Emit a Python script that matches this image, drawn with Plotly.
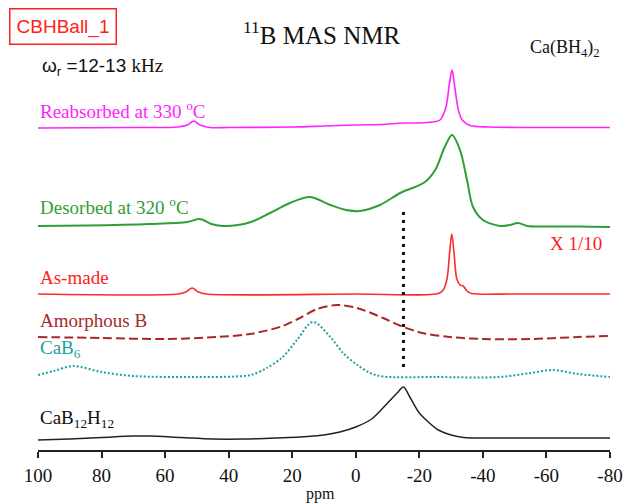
import plotly.graph_objects as go

# ---------------- data ----------------
# chemical shift (ppm) and relative intensity for each spectrum
cab12h12_ppm = [100, 90, 80, 70, 65, 55, 45, 35, 25, 15, 10, 5, 0, -5, -10, -13, -15, -17, -20, -22.5, -26, -30, -34, -45, -60, -80]
cab12h12_int = [0, 1, 2.5, 4, 4, 2.5, 1, 1, 2, 3.5, 5, 8, 13, 21, 37, 47, 53, 43, 27, 19, 10, 5, 2.5, 2, 2, 2]

cab6_ppm = [100, 95, 89, 80, 70, 50, 38, 33, 28, 23, 18.5, 13.5, 8, 4, -0.5, -4.5, -8.5, -25, -45, -55, -62, -70, -80]
cab6_int = [2, 6, 11, 5, 1, 0, 0.5, 2, 9, 20, 37, 55, 40, 24, 12, 4, 0.5, 0, 0, 4, 7, 3, 0]

amorph_ppm = [100, 80, 60, 43.7, 33.3, 23, 17.6, 12.2, 6, -0.4, -8.6, -15, -21, -29.6, -40, -55, -70, -80]
amorph_int = [2, 1, 0, 2, 5, 13, 21, 30, 34, 31, 21, 12, 6, 2, 0, 0, 2, 3]

asmade_ppm = [100, 56, 53.5, 51.5, 49.5, 47, 0, -26, -27.5, -28.7, -29.5, -30.2, -31, -31.8, -32.8, -33.8, -35, -36.5, -50, -80]
asmade_int = [0, 0, 2, 6, 2, 0, 0, 0.5, 4, 15, 40, 60, 38, 15, 9, 8, 3, 0.5, 0, 0]

desorb_ppm = [100, 85, 65, 53, 49, 45.5, 42, 37, 33, 27, 20.7, 14.5, 8, 3, -1.3, -7.6, -14, -18.6, -21.8, -25, -28, -30.3, -32.8, -35, -36.9, -40, -45.4, -48.5, -51, -54, -60, -70, -80]
desorb_int = [1, 1.5, 3, 5, 8, 3, 1, 2, 5, 14, 24, 30, 22, 17, 16, 22, 34, 40, 45, 57, 80, 92, 77, 47, 20, 7, 1, 2, 4, 1, 0.5, 0.5, 0]

reabs_ppm = [100, 70, 56, 53, 51, 49, 46, 40, 20, 10, 0, -8, -15, -20, -24, -26.5, -28.3, -29.5, -30.3, -31.1, -32.3, -33.5, -36, -42, -55, -80]
reabs_int = [0, 0.5, 1, 3, 7, 3, 0.5, 0.5, 1, 2, 3, 3.5, 5, 5, 6, 8, 20, 45, 58, 42, 18, 8, 2.5, 1, 0.5, 0.5]

series_names = ["CaB<sub>12</sub>H<sub>12</sub>", "CaB<sub>6</sub>", "Amorphous B", "As-made",
                "Desorbed at 320 <sup>o</sup>C", "Reabsorbed at 330 <sup>o</sup>C"]
x_ticks = [100, 80, 60, 40, 20, 0, -20, -40, -60, -80]
ref_line_ppm = -15

# ---------------- layout / style ----------------
W, H = 624, 504
ML, MR, MT, MB = 38, 14, 0, 54
PW, PH = W - ML - MR, H - MT - MB

offsets = [10, 73, 111, 156, 223, 322]
colors = ["#222222", "#1fa0a0", "#a8282a", "#ff2a2a", "#2f9e35", "#ff22ff"]
dashes = ["solid", "2px,2px", "9px,4px", "solid", "solid", "solid"]
widths = [1.5, 2, 2, 1.6, 2, 1.6]

spectra = [(cab12h12_ppm, cab12h12_int), (cab6_ppm, cab6_int), (amorph_ppm, amorph_int),
           (asmade_ppm, asmade_int), (desorb_ppm, desorb_int), (reabs_ppm, reabs_int)]

fig = go.Figure()
for (xs, ys), off, c, d, w, n in zip(spectra, offsets, colors, dashes, widths, series_names):
    fig.add_trace(go.Scatter(x=xs, y=[v + off for v in ys], mode="lines", name=n,
                             line=dict(color=c, dash=d, width=w, shape="spline", smoothing=0.9),
                             showlegend=False, hoverinfo="skip"))

fig.add_shape(type="line", x0=ref_line_ppm, x1=ref_line_ppm, y0=83, y1=241, xref="x", yref="y",
              line=dict(color="#111111", width=3, dash="3px,5px"))

SERIF = "Liberation Serif, Times New Roman, serif"
SANS = "Liberation Sans, Arial, sans-serif"

def px(x):
    return (x - ML) / PW

def py(y):
    return (H - MB - y) / PH

ann = []
def add(text, x, y, size, color, font=SERIF, xanchor="left", **kw):
    ann.append(dict(text=text, x=px(x), y=py(y), xref="paper", yref="paper", showarrow=False,
                    xanchor=xanchor, yanchor="middle", font=dict(family=font, size=size, color=color), **kw))

add("CBHBall_1", 62.5, 26, 19, "#ff2020", font=SANS, xanchor="center",
    bordercolor="#ff2020", borderwidth=1.5, borderpad=6, width=93, height=22)
add("<sup>11</sup>B MAS NMR", 322, 33, 25, "#111111", xanchor="center")
add("Ca(BH<sub>4</sub>)<sub>2</sub>", 565, 48, 18, "#111111", xanchor="center")
add("ω<sub>r</sub> =12-13 <span style='font-family:Liberation Serif'>kHz</span>", 40, 67, 19, "#111111", font=SANS)
add(series_names[5], 38, 110, 19, "#ff22ff")
add(series_names[4], 38, 206, 19, "#2f9e35")
add("X 1/10", 548, 244, 19, "#ff2020")
add(series_names[3], 38, 277, 19, "#ff2020")
add(series_names[2], 38, 320, 19, "#a8282a")
add(series_names[1], 38, 349, 19, "#1fa0a0")
add(series_names[0], 38, 419, 19, "#111111")
add("ppm", 320, 494, 16, "#111111", xanchor="center")

fig.update_layout(
    width=W, height=H, margin=dict(l=ML, r=MR, t=MT, b=MB, autoexpand=False),
    paper_bgcolor="white", plot_bgcolor="white",
    annotations=ann,
    xaxis=dict(range=[100, -80], tickvals=x_ticks, ticktext=[str(t) for t in x_ticks],
               showgrid=False, zeroline=False, showline=True, linecolor="#222222", linewidth=1.5,
               ticks="outside", ticklen=6, tickwidth=1.5, tickcolor="#222222", automargin=False,
               tickfont=dict(family=SERIF, size=19, color="#111111"), ticklabelstandoff=1),
    yaxis=dict(range=[0, PH], visible=False, showgrid=False, zeroline=False),
)

fig.write_html("out.html", config={"displayModeBar": False},
               post_script="document.body.style.margin='0';document.body.style.padding='0';")
